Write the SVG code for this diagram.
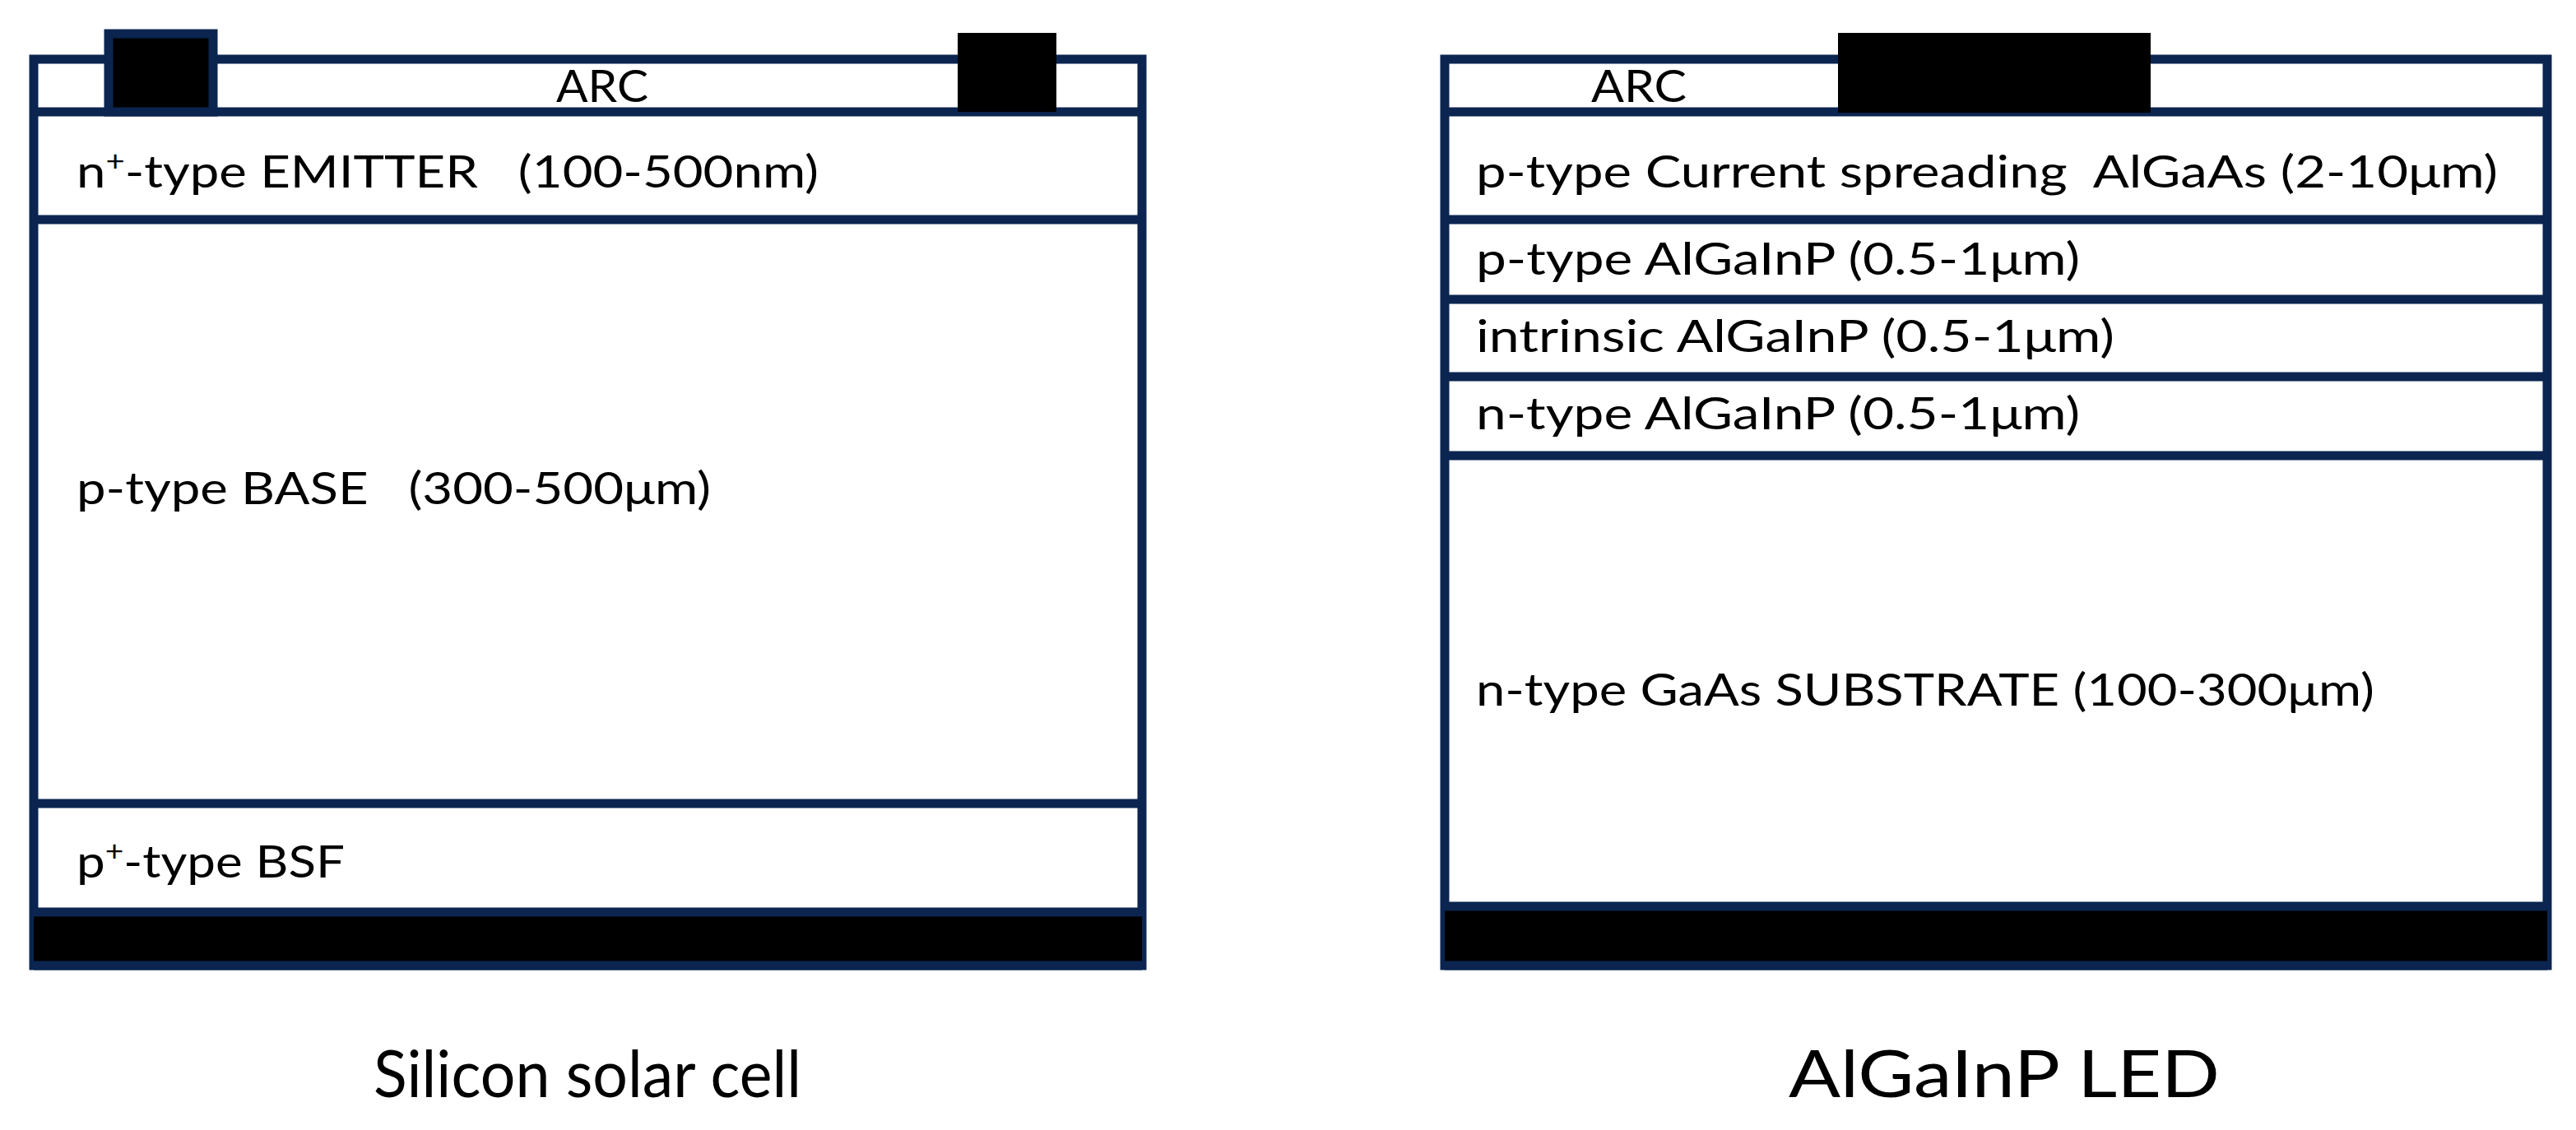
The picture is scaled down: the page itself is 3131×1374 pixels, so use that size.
<svg xmlns="http://www.w3.org/2000/svg" width="3131" height="1374" viewBox="0 0 3131 1374">
<style>
.b{fill:#fff;stroke:#0b2550;stroke-width:11}
.l{stroke:#0b2550;stroke-width:11}
.k{fill:#000}
text{font-family:Lato,"Open Sans",sans-serif;font-size:54px;fill:#000}
.c{font-size:80px;text-anchor:middle}
</style>
<rect width="3131" height="1374" fill="#fff"/>
<g id="solar">
<rect class="b" x="41" y="72" width="1347" height="1102"/>
<line class="l" x1="41" y1="136" x2="1388" y2="136"/>
<line class="l" x1="41" y1="267" x2="1388" y2="267"/>
<line class="l" x1="41" y1="977" x2="1388" y2="977"/>
<rect class="k" x="41" y="1109" width="1347" height="65"/>
<line class="l" x1="41" y1="1109" x2="1388" y2="1109"/>
<line class="l" x1="41" y1="1174" x2="1388" y2="1174"/>
<rect class="k" x="132" y="41" width="127" height="95" stroke="#0b2550" stroke-width="11"/>
<rect class="k" x="1164" y="40" width="120" height="96"/>
<text x="676" y="124" textLength="112" lengthAdjust="spacingAndGlyphs">ARC</text>
<text x="93" y="228" textLength="902" lengthAdjust="spacingAndGlyphs" xml:space="preserve">n<tspan dy="-20" font-size="34">+</tspan><tspan dy="20">-type EMITTER   (100-500nm)</tspan></text>
<text x="93" y="613" textLength="771" lengthAdjust="spacingAndGlyphs" xml:space="preserve">p-type BASE   (300-500μm)</text>
<text x="93" y="1067" textLength="326" lengthAdjust="spacingAndGlyphs">p<tspan dy="-20" font-size="34">+</tspan><tspan dy="20">-type BSF</tspan></text>
<text class="c" x="714" y="1334" textLength="520" lengthAdjust="spacingAndGlyphs">Silicon solar cell</text>
</g>
<g id="led">
<rect class="b" x="1756" y="72" width="1340" height="1102"/>
<line class="l" x1="1756" y1="136" x2="3096" y2="136"/>
<line class="l" x1="1756" y1="267" x2="3096" y2="267"/>
<line class="l" x1="1756" y1="364" x2="3096" y2="364"/>
<line class="l" x1="1756" y1="458" x2="3096" y2="458"/>
<line class="l" x1="1756" y1="554" x2="3096" y2="554"/>
<rect class="k" x="1756" y="1106" width="1340" height="68"/>
<line class="l" x1="1756" y1="1102" x2="3096" y2="1102"/>
<line class="l" x1="1756" y1="1174" x2="3096" y2="1174"/>
<rect class="k" x="2234" y="40" width="380" height="97"/>
<text x="1934" y="124" textLength="116" lengthAdjust="spacingAndGlyphs">ARC</text>
<text x="1794" y="228" textLength="1242" lengthAdjust="spacingAndGlyphs" xml:space="preserve">p-type Current spreading  AlGaAs (2-10μm)</text>
<text x="1794" y="334" textLength="734" lengthAdjust="spacingAndGlyphs">p-type AlGaInP (0.5-1μm)</text>
<text x="1794" y="428" textLength="776" lengthAdjust="spacingAndGlyphs">intrinsic AlGaInP (0.5-1μm)</text>
<text x="1794" y="522" textLength="734" lengthAdjust="spacingAndGlyphs">n-type AlGaInP (0.5-1μm)</text>
<text x="1794" y="858" textLength="1092" lengthAdjust="spacingAndGlyphs">n-type GaAs SUBSTRATE (100-300μm)</text>
<text class="c" x="2436" y="1334" textLength="524" lengthAdjust="spacingAndGlyphs">AlGaInP LED</text>
</g>
<g id="connectors"/>
</svg>
